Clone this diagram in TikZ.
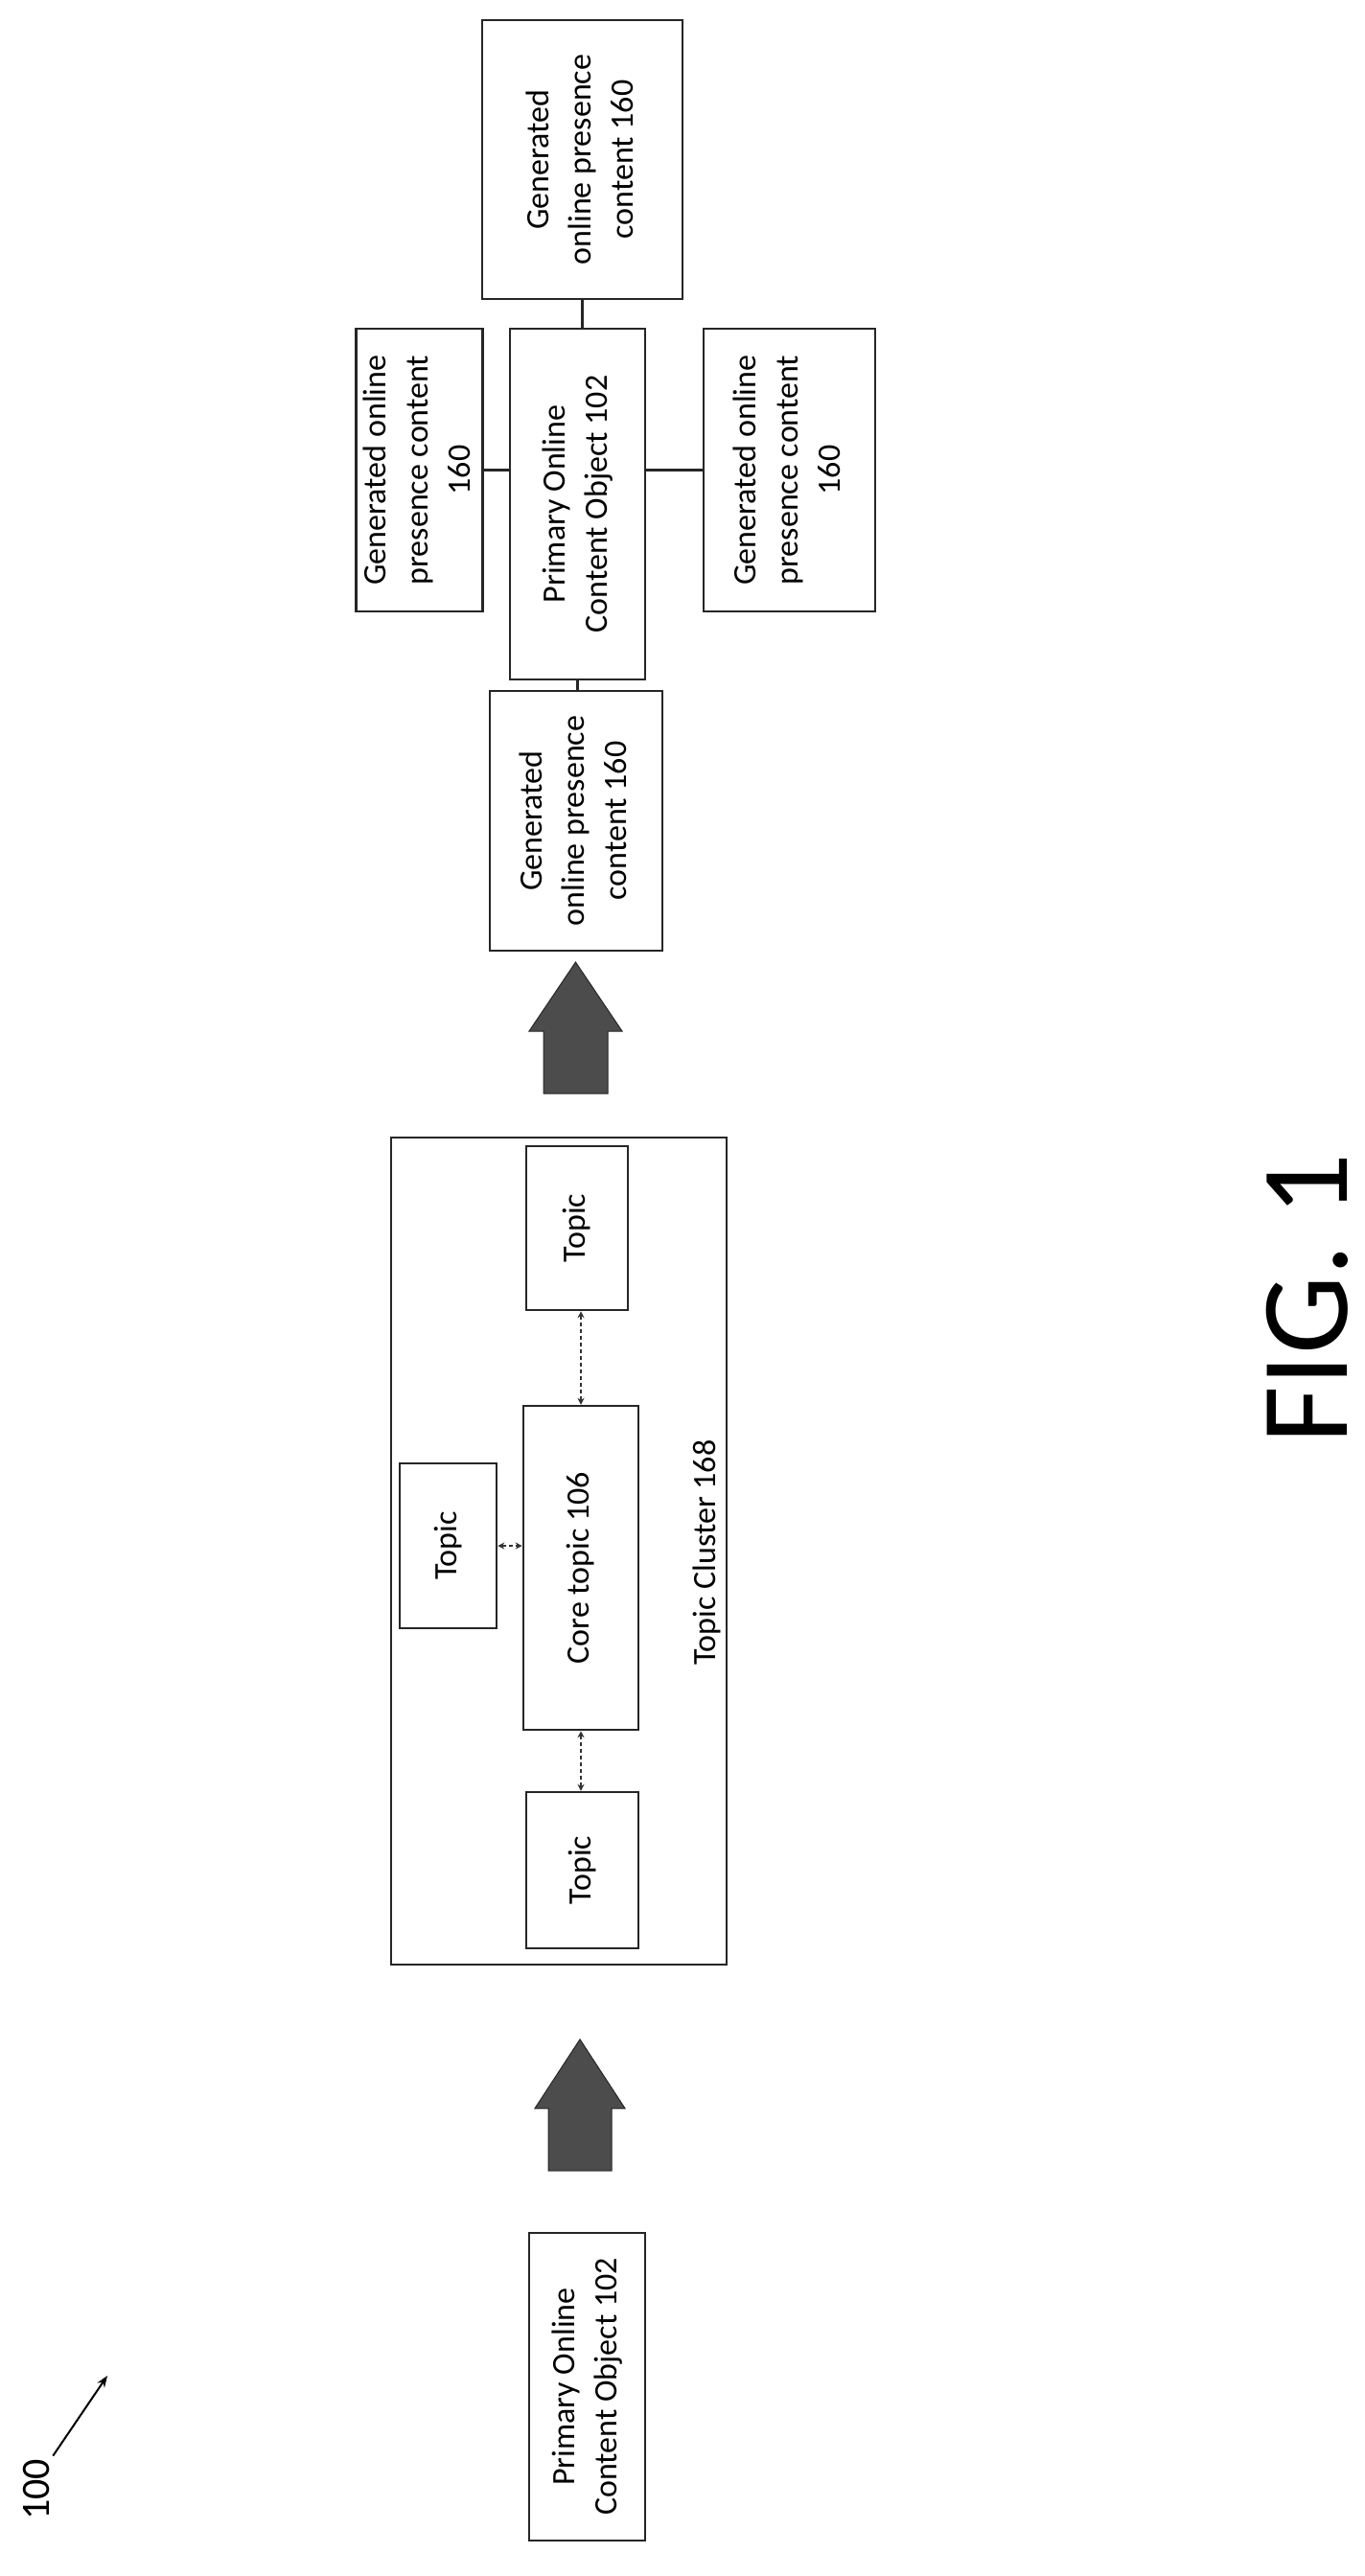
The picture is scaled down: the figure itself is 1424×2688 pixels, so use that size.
\documentclass[tikz,border=0pt]{standalone}
\usepackage{fontspec}
\setmainfont{Carlito}
\usetikzlibrary{arrows.meta}
\begin{document}
\begin{tikzpicture}[x=1pt,y=-1pt,
  box/.style={draw=black!85,line width=2.5pt,rectangle,inner sep=0pt,font=\fontsize{34}{44}\selectfont},
  link/.style={draw=black!85,line width=2.5pt},
  rel/.style={draw=black!80,line width=2pt,dash pattern=on 4pt off 3pt,{Stealth[length=7pt,width=7pt]}-{Stealth[length=7pt,width=7pt]}},
  big/.style={fill=black!70,draw=black!85,line width=1pt}]
\useasboundingbox (0,0) rectangle (1424,2688);
\newcommand{\rt}[1]{\rotatebox{90}{\begin{tabular}{@{}c@{}}#1\end{tabular}}}
% left column
\node[box,minimum width=121pt,minimum height=321pt] (p1) at (612.5,2490.5) {\rt{Primary Online\\Content Object 102}};
% arrow 1
\path[big] (572,2265) -- (572,2200) -- (558,2200) -- (605,2128) -- (652,2200) -- (638,2200) -- (638,2265) -- cycle;
% cluster
\node[box,minimum width=350pt,minimum height=863pt] (cl) at (583,1618.5) {};
\node[font=\fontsize{34}{40}\selectfont] (cll) at (737,1620) {\rotatebox{90}{Topic Cluster 168}};
\node[box,minimum width=117pt,minimum height=163pt] (tb) at (607.5,1951.5) {\rt{Topic}};
\node[box,minimum width=120pt,minimum height=338pt] (core) at (606,1636) {\rt{Core topic 106}};
\node[box,minimum width=101pt,minimum height=172pt] (tl) at (467.5,1613) {\rt{Topic}};
\node[box,minimum width=106pt,minimum height=171pt] (tt) at (602,1281.5) {\rt{Topic}};
\draw[rel] (core.south) -- (core.south |- tb.north);
\draw[rel] (core.north) -- (core.north |- tt.south);
\draw[rel] (tl.east) -- (tl.east -| core.west);
% arrow 2
\path[big] (567,1141) -- (567,1076) -- (552,1076) -- (600.5,1004) -- (649,1076) -- (634,1076) -- (634,1141) -- cycle;
% output group
\node[box,minimum width=180pt,minimum height=271pt] (gb) at (601,856.5) {\rt{Generated\\online presence\\content 160}};
\node[box,minimum width=141pt,minimum height=366pt] (pm) at (602.5,526) {\rt{Primary Online\\Content Object 102}};
\node[box,minimum width=131pt,minimum height=295pt] (gl) at (437.5,490.5) {\rt{Generated online\\presence content\\160}};
\node[box,minimum width=179pt,minimum height=295pt] (gr) at (823.5,490.5) {\rt{Generated online\\presence content\\160}};
\node[box,minimum width=209pt,minimum height=291pt] (gt) at (607.5,166.5) {\rt{Generated\\online presence\\content 160}};
\draw[link] (gt.south) -- (gt.south |- pm.north);
\draw[link] (pm.south) -- (pm.south |- gb.north);
\draw[link] (gl.east) -- (gl.east -| pm.west);
\draw[link] (gr.west) -- (gr.west -| pm.east);
% labels
\node[font=\fontsize{130}{130}\selectfont] (fig) at (1364,1355) {\rotatebox{90}{FIG. 1}};
\node[font=\fontsize{42}{42}\selectfont] (ref) at (38,2598) {\rotatebox{90}{100}};
\coordinate (reft) at (112,2479);
\draw[line width=2pt,-{Stealth[length=12pt,width=9pt]}] (ref.north east) -- (reft);
\end{tikzpicture}
\end{document}
